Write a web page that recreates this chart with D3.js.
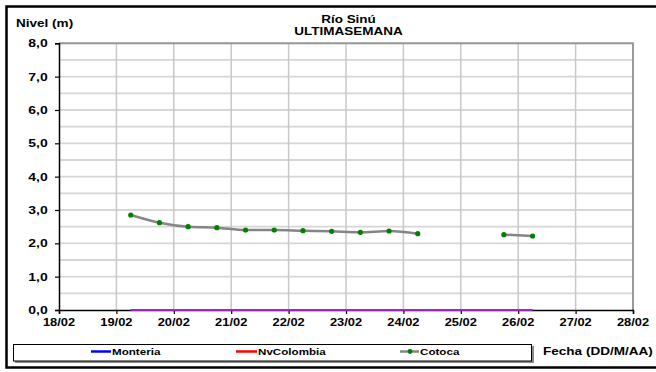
<!DOCTYPE html>
<html><head><meta charset="utf-8">
<script src="https://cdn.jsdelivr.net/npm/d3@7"></script>
<style>html,body{margin:0;padding:0;background:#fff}svg{display:block}</style>
</head><body>
<script>
const times = ["2014-02-19T06:00","2014-02-19T18:00","2014-02-20T06:00","2014-02-20T18:00","2014-02-21T06:00","2014-02-21T18:00","2014-02-22T06:00","2014-02-22T18:00","2014-02-23T06:00","2014-02-23T18:00","2014-02-24T06:00","2014-02-24T18:00","2014-02-25T06:00","2014-02-25T18:00","2014-02-26T06:00"];
const cotoca = [2.85,2.62,2.50,2.47,2.40,2.40,2.38,2.36,2.33,2.37,2.29,null,null,2.26,2.22];
const monteria = [0,0,0,0,0,0,0,0,0,0,0,0,0,0,0];
const nvColombia = [0,0,0,0,0,0,0,0,0,0,0,0,0,0,0];
const seriesNames = ["Monteria","NvColombia","Cotoca"];
const yTicks = [0,1,2,3,4,5,6,7,8];
const titleLines = ["Río Sinú","ULTIMASEMANA"];
const yTitle = "Nivel (m)";
const xTitle = "Fecha (DD/M/AA)";

const W=656,H=372;
const svg=d3.select("body").append("svg").attr("width",W).attr("height",H);
const parse=d3.timeParse("%Y-%m-%dT%H:%M");
const dates=times.map(parse);
const x=d3.scaleTime().domain([parse("2014-02-18T00:00"),parse("2014-02-28T00:00")]).range([59,633]);
const y=d3.scaleLinear().domain([0,8]).range([310,43.3]);
const FONT="'Liberation Sans',Arial,sans-serif";

function txt(g,xx,yy,s,size,anchor,sx){
  return g.append("text").attr("transform",`translate(${xx},${yy}) scale(${sx},1)`)
   .attr("text-anchor",anchor).attr("font-family",FONT).attr("font-weight","bold")
   .attr("font-size",size).attr("fill","#000").text(s);
}

// outer border
svg.append("rect").attr("x",6.5).attr("y",6.5).attr("width",W+10).attr("height",361).attr("fill","none").attr("stroke","#000").attr("stroke-width",2.5);

// grid
const dayTicks=d3.timeDay.range(parse("2014-02-18T00:00"),parse("2014-02-28T01:00"));
const halfTicks=d3.range(0.5,8.01,0.5);
svg.append("g").selectAll("line").data(halfTicks).join("line")
 .attr("x1",x.range()[0]).attr("x2",x.range()[1]).attr("y1",d=>y(d)).attr("y2",d=>y(d))
 .attr("stroke","#d6d6d6").attr("stroke-width",1.8);
svg.append("g").selectAll("line").data(dayTicks.slice(1,-1)).join("line")
 .attr("x1",d=>x(d)).attr("x2",d=>x(d)).attr("y1",y(0)).attr("y2",y(8))
 .attr("stroke","#c8c8c8").attr("stroke-width",1.5);
// plot border top/right
svg.append("path").attr("d",`M${x.range()[0]},${y(8)}H${x.range()[1]}V${y(0)}`).attr("fill","none").attr("stroke","#9a9a9a").attr("stroke-width",2);

// axes
const yAxis=svg.append("g").attr("transform",`translate(${x.range()[0]},0)`)
 .call(d3.axisLeft(y).tickValues(yTicks).tickSize(4).tickFormat(()=>""));
yAxis.select(".domain").attr("stroke","#000").attr("stroke-width",1.5);
yAxis.selectAll(".tick line").attr("stroke","#000").attr("stroke-width",1.2);
const xAxis=svg.append("g").attr("transform",`translate(0,${y(0)})`)
 .call(d3.axisBottom(x).tickValues(dayTicks).tickSize(4).tickFormat(()=>""));
xAxis.select(".domain").attr("stroke","#000").attr("stroke-width",1.5);
xAxis.selectAll(".tick line").attr("stroke","#000").attr("stroke-width",1.2);

const fmtY=d=>d3.format(".1f")(d).replace(".",",");
yTicks.forEach(v=>txt(svg,47.7,y(v)+4,fmtY(v),10.5,"end",1.33));
const fmtX=d3.timeFormat("%d/%m");
dayTicks.forEach(d=>txt(svg,x(d),325.5,fmtX(d),11,"middle",1.17));

// zero series
const line0=d3.line().defined(d=>d.v!=null).x(d=>x(d.t)).y(d=>y(d.v));
svg.append("path").datum(dates.map((t,i)=>({t,v:monteria[i]}))).attr("d",line0)
 .attr("fill","none").attr("stroke","#0000ff").attr("stroke-width",2.2);
svg.append("path").datum(dates.map((t,i)=>({t,v:nvColombia[i]}))).attr("d",line0)
 .attr("fill","none").attr("stroke","#ff3fa0").attr("stroke-opacity",0.62).attr("stroke-width",2.2);

// Cotoca
const cd=dates.map((t,i)=>({t,v:cotoca[i]}));
const lineC=d3.line().defined(d=>d.v!=null).x(d=>x(d.t)).y(d=>y(d.v)).curve(d3.curveMonotoneX);
svg.append("path").datum(cd).attr("d",lineC).attr("fill","none").attr("stroke","#858585").attr("stroke-width",2.5);
svg.append("g").selectAll("circle").data(cd.filter(d=>d.v!=null)).join("circle")
 .attr("cx",d=>x(d.t)).attr("cy",d=>y(d.v)).attr("r",2.6).attr("fill","#008000");

// titles
txt(svg,348.5,22.5,titleLines[0],10,"middle",1.35);
txt(svg,348.5,34.5,titleLines[1],10,"middle",1.35);
txt(svg,16,26.5,yTitle,10.5,"start",1.29);
txt(svg,543,355,xTitle,10.5,"start",1.29);

// legend
svg.append("rect").attr("x",15).attr("y",346).attr("width",519).attr("height",17).attr("fill","#8a8a8a");
svg.append("rect").attr("x",13.5).attr("y",344.5).attr("width",518).attr("height",16.5).attr("fill","#fff").attr("stroke","#000").attr("stroke-width",1);
const legX=[[91,112],[236,258],[400,420]];
const legCol=["#0000ff","#ff0000","#858585"];
seriesNames.forEach((n,i)=>{
  svg.append("line").attr("x1",legX[i][0]).attr("x2",legX[i][1]-1).attr("y1",351.5).attr("y2",351.5)
   .attr("stroke",legCol[i]).attr("stroke-width",2.5);
  if(n==="Cotoca") svg.append("circle").attr("cx",(legX[i][0]+legX[i][1])/2).attr("cy",351.5).attr("r",2.4).attr("fill","#008000");
  txt(svg,legX[i][1],354.5,n,8.8,"start",1.32);
});
</script>
</body></html>
